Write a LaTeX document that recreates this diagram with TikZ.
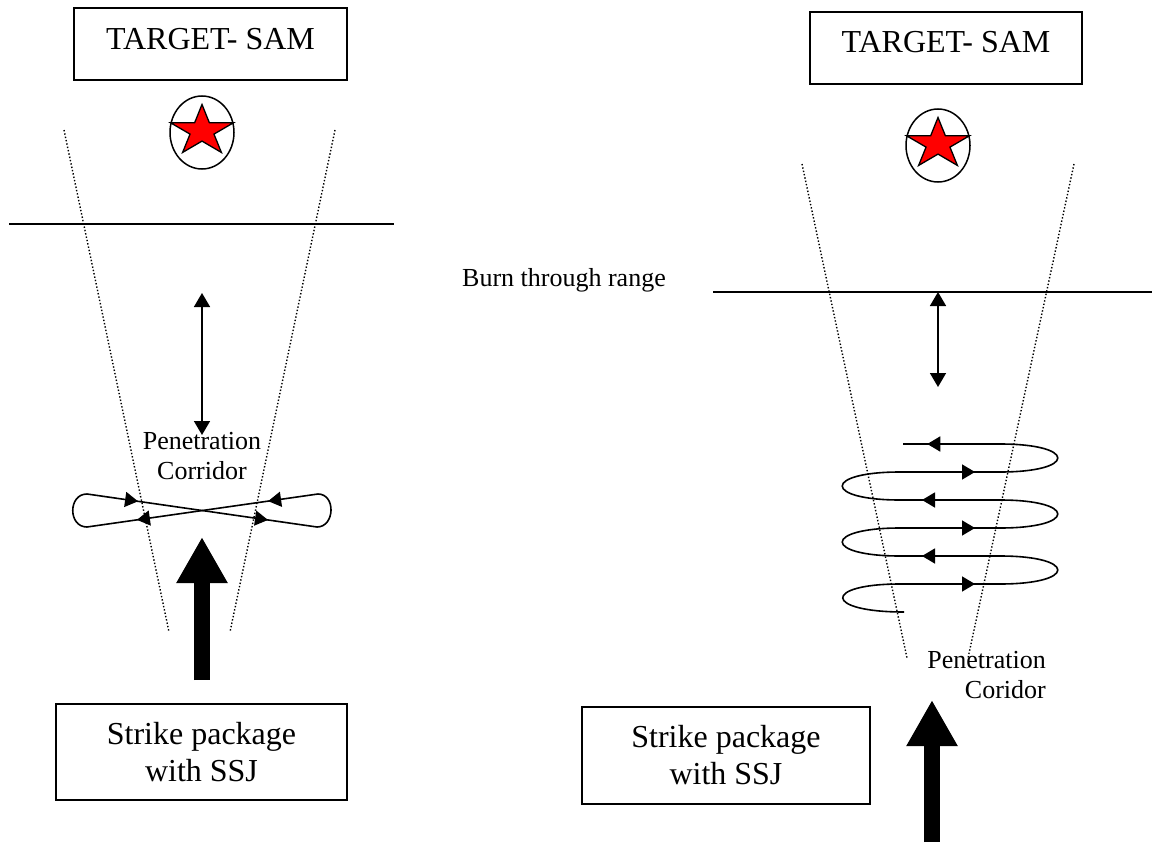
\documentclass[tikz,border=0pt]{standalone}
\usepackage{fontspec}
\setmainfont{Liberation Serif}
\usetikzlibrary{arrows.meta,decorations.markings}

\tikzset{
  lbox/.style={draw,line width=2pt,inner sep=0pt,font=\fontsize{32}{37}\selectfont,align=center},
  lbl/.style={inner sep=0pt,font=\fontsize{26}{30}\selectfont},
  corridor/.style={line width=1.4pt,dash pattern=on 1.4pt off 2pt},
  rangeline/.style={line width=1.6pt},
  dblarrow/.style={line width=1.6pt,{Triangle[length=14pt,width=16pt]}-{Triangle[length=14pt,width=16pt]}},
  bigarrow/.style={line width=16pt,-{Triangle[length=46pt,width=48pt]}},
  orbit/.style={line width=1.6pt},
  midarrow/.style={postaction={decorate,decoration={markings,
      mark=at position #1 with {\arrow{Triangle[length=13pt,width=15pt]}}}}}
}

% SAM site: star in a ring
\newcommand{\samsite}[1]{%
  \draw[line width=1.5pt] (#1) ellipse [x radius=32pt, y radius=36.5pt];
  \begin{scope}[shift={(#1)},yshift=1.5pt,xscale=1.245,yscale=-1]
    \filldraw[fill=red,line width=1.3pt,line join=miter]
      (90:26.5) -- (126:10.1) -- (162:26.5) -- (198:10.1) -- (234:26.5) --
      (270:10.1) -- (306:26.5) -- (342:10.1) -- (18:26.5) -- (54:10.1) -- cycle;
  \end{scope}}

\begin{document}
\begin{tikzpicture}[x=1pt,y=-1pt]
	\useasboundingbox (0,0) rectangle (1162,843);

	% left: escort jamming
	\node[lbox,text height=42pt,text depth=30pt,minimum width=273pt] (tgtL) at (210.5,44) {TARGET- SAM};
	\samsite{202,132.5}
	\draw[corridor] (64,130) -- (169,632);
	\draw[corridor] (335,130) -- (230,632);
	\draw[rangeline] (9,224) -- (394,224);
	\coordinate (upL) at (202,293);
	\coordinate (dnL) at (202,435);
	\draw[dblarrow] (upL) -- (dnL);
	\node[lbl,align=center] (penL) at (202,456) {Penetration\\Corridor};
	\coordinate (xa) at (87,494);
	\coordinate (xb) at (317,527);
	\coordinate (xc) at (318,494);
	\coordinate (xd) at (87,527);
	\draw[orbit,midarrow=0.222,midarrow=0.787] (xa) -- (xb);
	\draw[orbit] (xb) .. controls (335,527) and (336,494) .. (xc);
	\draw[orbit,midarrow=0.216,midarrow=0.784] (xc) -- (xd);
	\draw[orbit] (xd) .. controls (68,527) and (68,494) .. (xa);
	\coordinate (jamL) at (202,680);
	\coordinate (tipL) at (202,537);
	\draw[bigarrow] (jamL) -- (tipL);
	\node[lbox,minimum width=291pt,minimum height=96pt] (strikeL) at (201.5,752) {Strike package\\with SSJ};

	% right: stand-off jammer orbit
	\node[lbox,text height=41pt,text depth=31pt,minimum width=272pt] (tgtR) at (946,48) {TARGET- SAM};
	\samsite{938,145.5}
	\draw[corridor] (802,164) -- (907,658);
	\draw[corridor] (1074,164) -- (968,658);
	\node[lbl,anchor=base west] (burn) at (462,286) {Burn through range};
	\draw[rangeline] (713,292) -- (1152,292);
	\coordinate (upR) at (938,292);
	\coordinate (dnR) at (938,387);
	\draw[dblarrow] (upR) -- (dnR);
	\draw[orbit] (904,612) .. controls (823,612) and (823,584) .. (900,584);
	\draw[orbit,midarrow=0.75] (900,584) -- (1000,584);
	\draw[orbit] (1000,584) .. controls (1077,584) and (1077,556) .. (1000,556);
	\draw[orbit,midarrow=0.78] (1000,556) -- (900,556);
	\draw[orbit] (900,556) .. controls (823,556) and (823,528) .. (900,528);
	\draw[orbit,midarrow=0.75] (900,528) -- (1000,528);
	\draw[orbit] (1000,528) .. controls (1077,528) and (1077,500) .. (1000,500);
	\draw[orbit,midarrow=0.78] (1000,500) -- (900,500);
	\draw[orbit] (900,500) .. controls (823,500) and (823,472) .. (900,472);
	\draw[orbit,midarrow=0.75] (900,472) -- (1000,472);
	\draw[orbit] (1000,472) .. controls (1077,472) and (1077,444) .. (1000,444);
	\draw[orbit,midarrow=0.75] (1000,444) -- (903,444);
	\node[lbl,align=right,anchor=east] (penR) at (1046,675) {Penetration\\Coridor};
	\coordinate (jamR) at (932,842);
	\coordinate (tipR) at (932,700);
	\draw[bigarrow] (jamR) -- (tipR);
	\node[lbox,minimum width=288pt,minimum height=97pt] (strikeR) at (726,755.5) {Strike package\\with SSJ};
\end{tikzpicture}
\end{document}
